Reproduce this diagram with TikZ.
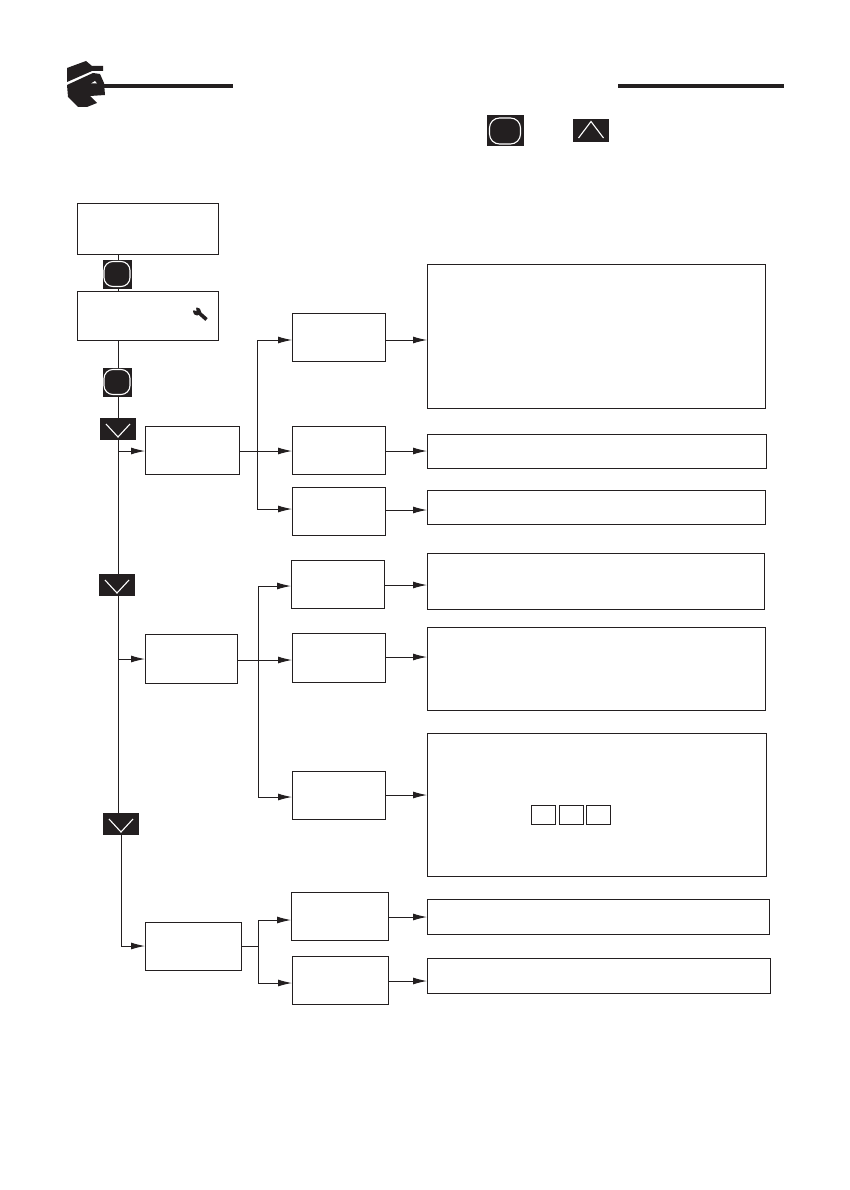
\documentclass[tikz,border=0pt]{standalone}
\usetikzlibrary{arrows.meta}
\definecolor{ink}{HTML}{231F20}
\tikzset{
  x=1pt,y=-1pt,
  box/.style={draw=ink,line width=1pt,fill=white,inner sep=0pt,outer sep=0pt},
  smallbox/.style={box,minimum width=24pt,minimum height=19pt},
  btn/.style={fill=ink,inner sep=0pt,outer sep=0pt},
  okbtn/.style={btn,minimum width=29pt,minimum height=29pt},
  arrowbtn/.style={btn,minimum width=36pt,minimum height=22pt},
  wire/.style={draw=ink,line width=1pt},
  arrow/.style={wire,-{Latex[length=14pt,width=7pt]}},
  rule/.style={draw=ink,line width=4pt},
  glyph/.style={draw=white,line width=1.1pt,line join=miter}
}
% box by corners: name, x1, y1, x2, y2
\newcommand{\bx}[5]{\node[box,minimum width={#4-#2},minimum height={#5-#3}] (#1) at ({(#2+#4)/2},{(#3+#5)/2}) {};}
\newcommand{\okglyph}[1]{\draw[glyph,rounded corners=9pt] ([shift={(-13,-12.5)}]#1.center) rectangle ([shift={(13,12.5)}]#1.center);}
\newcommand{\dnglyph}[1]{\draw[glyph] ([shift={(-12,-5)}]#1.center) -- ([shift={(0,8)}]#1.center) -- ([shift={(12,-5)}]#1.center);}
\newcommand{\upglyph}[1]{\draw[glyph] ([shift={(-12.5,7)}]#1.center) -- ([shift={(0,-9.5)}]#1.center) -- ([shift={(12.5,7)}]#1.center);}
\begin{document}
\begin{tikzpicture}
\useasboundingbox (0,0) rectangle (850,1190);
\fill[white] (0,0) rectangle (850,1190);
% header
\coordinate (ruleAa) at (92,86);
\coordinate (ruleAb) at (233,86);
\coordinate (ruleBa) at (618,86);
\coordinate (ruleBb) at (784,86);
\draw[rule] (ruleAa) -- (ruleAb);
\draw[rule] (ruleBa) -- (ruleBb);
% logo
\fill[ink] (67,68) -- (86,61) -- (92,66) -- (103,66) -- (103,71) -- (92,71) -- (67,82) -- cycle;
\fill[ink] (67,85) -- (93,73) -- (100,74) -- (104,83) -- (105,95) -- (90,96) -- (97,103) -- (87,107) -- (78,107) -- (68,97) -- cycle;
\fill[white] (91,83.5) -- (95,81) -- (97,83.5) -- cycle;
% boxes
\bx{top}{77}{204}{218}{254}
\bx{mid}{77}{291}{218}{340}
\bx{ba}{145}{426}{239}{474}
\bx{bb}{145}{634}{237}{683}
\bx{bc}{145}{922}{241}{970}
\bx{ca}{292}{313}{385}{361}
\bx{cb}{292}{426}{385}{474}
\bx{cc}{292}{487}{385}{535}
\bx{cd}{291}{560}{384}{608}
\bx{ce}{292}{633}{385}{682}
\bx{cf}{292}{771}{385}{819}
\bx{cg}{291}{892}{388}{940}
\bx{ch}{292}{956}{388}{1004}
\bx{da}{427}{264}{765}{408}
\bx{db}{427}{434}{766}{468}
\bx{dc}{427}{490}{765}{524}
\bx{dd}{427}{553}{764}{609}
\bx{de}{427}{627}{765}{710}
\bx{df}{427}{733}{766}{876}
\bx{dg}{427}{899}{769}{934}
\bx{dh}{427}{958}{770}{993}
% small squares
\node[smallbox] (sa) at (543,814.5) {};
\node[smallbox] (sb) at (571,814.5) {};
\node[smallbox] (sc) at (598,814.5) {};
% wrench
\begin{scope}[shift={(200.5,314)}]
\fill[ink] (-3.5,-2.5) circle (4);
\draw[ink,line width=3.6pt] (-3,-2.5) -- (6,5.5);
\fill[white] (-4,-3) -- (-9.5,-4.5) -- (-5,-9) -- cycle;
\end{scope}
% buttons
\node[okbtn] (oa) at (117,274) {};
\node[okbtn] (ob) at (117,382) {};
\node[arrowbtn] (va) at (118,429) {};
\node[arrowbtn] (vb) at (117,585) {};
\node[arrowbtn] (vc) at (121,824) {};
\node[btn,minimum width=37pt,minimum height=31pt] (hok) at (505,131) {};
\node[arrowbtn,minimum height=23pt] (hup) at (591,131) {};
\okglyph{oa}\okglyph{ob}
\draw[glyph,rounded corners=10pt] ([shift={(-15.5,-13)}]hok.center) rectangle ([shift={(15.5,13)}]hok.center);
\dnglyph{va}\dnglyph{vb}\dnglyph{vc}
\upglyph{hup}
% connectors: left trunk
\coordinate (tx) at (118,0);
\draw[wire] (top.south -| tx) -- (oa.north -| tx);
\draw[wire] (oa.south -| tx) -- (mid.north -| tx);
\draw[wire] (mid.south -| tx) -- (ob.north -| tx);
\draw[wire] (ob.south -| tx) -- (va.north -| tx);
\draw[wire] (va.south -| tx) -- (vb.north -| tx);
\draw[wire] (vb.south -| tx) -- (vc.north -| tx);
\coordinate (cnr) at (vc |- 0,946);
\draw[wire] (vc.south) -- (cnr);
\coordinate (bce) at (bc.west |- cnr);
\draw[arrow] (cnr) -- (bce);
\coordinate (ja) at (118,451);
\coordinate (jb) at (118,659);
\draw[arrow] (ja) -- (ja -| ba.west);
\draw[arrow] (jb) -- (jb -| bb.west);
% buses
\coordinate (busa) at (257,451);
\coordinate (busb) at (258,660);
\coordinate (busc) at (258,946);
\coordinate (ina) at (257,340);
\coordinate (inb) at (257,509);
\coordinate (ind) at (258,586);
\coordinate (inf) at (258,797);
\coordinate (ing) at (258,920);
\coordinate (inh) at (258,983);
\draw[wire] (ba.east |- busa) -- (busa);
\draw[wire] (ina) -- (inb);
\draw[arrow] (ina) -- (ina -| ca.west);
\draw[arrow] (busa) -- (busa -| cb.west);
\draw[arrow] (inb) -- (inb -| cc.west);
\draw[wire] (bb.east |- busb) -- (busb);
\draw[wire] (ind) -- (inf);
\draw[arrow] (ind) -- (ind -| cd.west);
\draw[arrow] (busb) -- (busb -| ce.west);
\draw[arrow] (inf) -- (inf -| cf.west);
\draw[wire] (bc.east |- busc) -- (busc);
\draw[wire] (ing) -- (inh);
\draw[arrow] (ing) -- (ing -| cg.west);
\draw[arrow] (inh) -- (inh -| ch.west);
% second level to third
\foreach \c/\d/\y in {ca/da/340,cb/db/451,cc/dc/510,cd/dd/585,ce/de/657,cf/df/795,cg/dg/917,ch/dh/981}{
  \coordinate (tmp) at (0,\y);
  \draw[arrow] (\c.east |- tmp) -- (\d.west |- tmp);
}
\end{tikzpicture}
\end{document}
